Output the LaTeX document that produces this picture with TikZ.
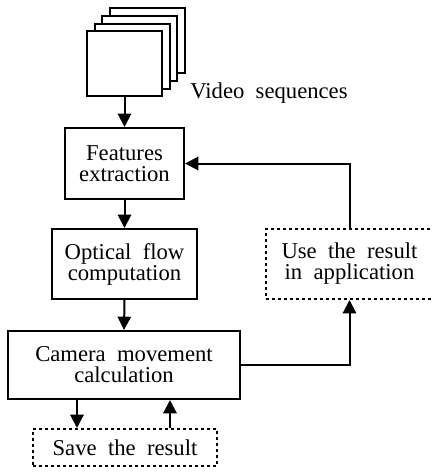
\documentclass[tikz,border=0pt]{standalone}
\usepackage{fontspec}
\setmainfont{Liberation Serif}
\usetikzlibrary{arrows.meta}
\newcommand\mytextsize{\fontsize{17}{15.75}\selectfont\spaceskip=0.5em plus 0.1em\relax}
\tikzset{
  every node/.style={font=\mytextsize, inner sep=0pt, align=center},
  solidbox/.style={draw, line width=1.5pt, fill=white},
  dotbox/.style={draw, line width=1.5pt, dash pattern=on 2.25pt off 2.25pt},
  frame/.style={draw, line width=1.5pt, fill=white, minimum width=56.25pt, minimum height=48.75pt},
  arr/.style={line width=1.5pt, -{Triangle[length=10pt,width=10pt]}}
}
\begin{document}
\begin{tikzpicture}[x=0.75pt,y=-0.75pt]
\useasboundingbox (0,0) rectangle (432,472);
\clip (0,0) rectangle (432,472);
% frames
\node[frame] (f3) at (147.6,40) {};
\node[frame] (f2) at (139.9,48) {};
\node[frame] (f1) at (132.2,56) {};
\node[frame] (f0) at (124.5,63.5) {};
\node (vid) at (269,93) {Video sequences};
% boxes
\node[solidbox, minimum width=89.25pt, minimum height=53.25pt] (feat) at (124.5,163.5) {Features\\extraction};
\node[solidbox, minimum width=108.75pt, minimum height=52.5pt] (opt) at (124.5,264) {Optical flow\\computation};
\node[solidbox, minimum width=174pt, minimum height=51pt] (cam) at (124,365) {Camera movement\\calculation};
\node[dotbox, minimum width=138pt, minimum height=27.75pt] (save) at (125,447.5) {Save the result};
\node[dotbox, minimum width=125.25pt, minimum height=52.5pt] (use) at (349.5,264) {Use the result\\in application};
\coordinate (xl) at (77,0);
\coordinate (xr) at (170,0);
% connectors
\draw[arr] (f0.south) -- (feat.north);
\draw[arr] (feat.south) -- (opt.north);
\draw[arr] (opt.south) -- (cam.north);
\draw[arr] (cam.south -| xl) -- (save.north -| xl);
\draw[arr] (save.north -| xr) -- (cam.south -| xr);
\draw[arr] (cam.east) -| (use.south);
\draw[arr] (use.north) |- (feat.east);
\end{tikzpicture}
\end{document}
